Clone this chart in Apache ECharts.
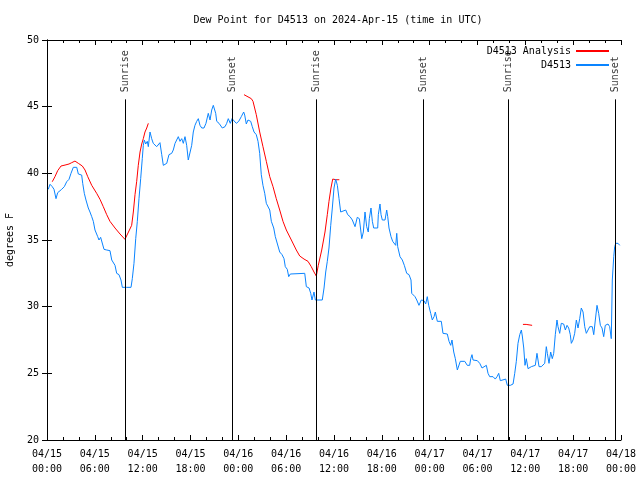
<!DOCTYPE html>
<html><head><meta charset="utf-8">
<script src="https://cdn.jsdelivr.net/npm/echarts@6/dist/echarts.min.js"></script>
<style>html,body{margin:0;padding:0;background:#fff}#c{width:640px;height:480px}</style>
</head><body><div id="c"></div>
<script>
const titleText = 'Dew Point for D4513 on 2024-Apr-15 (time in UTC)';
const yName = 'degrees F';
const obsName = 'D4513';
const anaName = 'D4513 Analysis';
const xTickLabels = ['04/15\n00:00','04/15\n06:00','04/15\n12:00','04/15\n18:00','04/16\n00:00','04/16\n06:00','04/16\n12:00','04/16\n18:00','04/17\n00:00','04/17\n06:00','04/17\n12:00','04/17\n18:00','04/18\n00:00'];
const sunHours = [9.82, 23.25, 33.78, 47.2, 57.87, 71.34];
const sunLabels = ['Sunrise','Sunset','Sunrise','Sunset','Sunrise','Sunset'];
const sunLineTop = 45.55;

// observed dew point [hour since 04/15 00:00 UTC, degF]
const obsPoints = [
[0.16,38.8],[0.38,39.18],[0.66,39.0],[0.88,38.8],[1.13,38.1],[1.34,38.55],[1.51,38.4],[1.84,38.8],[2.17,39.0],[2.47,39.37],
[2.76,39.55],[3.01,40.0],[3.30,40.45],[3.51,40.5],[3.73,40.45],[3.93,39.95],[4.35,39.87],[4.48,39.25],[4.68,38.5],[4.89,38.0],
[5.18,37.4],[5.39,37.1],[5.61,36.75],[5.81,36.4],[6.02,35.75],[6.36,35.25],[6.52,35.0],[6.73,35.2],[6.94,35.1],[7.15,34.3],
[7.49,34.25],[7.90,34.2],[8.12,33.5],[8.32,33.37],[8.53,33.1],[8.74,32.5],[9.03,32.4],[9.28,32.0],[9.45,31.45],[10.0,31.45],
[10.54,31.45],[10.70,32.1],[10.91,33.25],[11.13,35.1],[11.33,36.4],[11.54,38.1],[11.75,39.6],[11.95,41.1],[12.08,42.1],[12.21,42.5],
[12.38,42.2],[12.58,42.4],[12.71,42.0],[12.92,43.1],[13.13,42.6],[13.33,42.25],[13.76,42.0],[14.17,42.3],[14.39,41.4],[14.59,40.6],
[14.80,40.55],[15.02,40.75],[15.30,41.4],[15.64,41.5],[15.84,41.75],[16.06,42.25],[16.27,42.1],[16.47,42.75],[16.68,42.4],[16.90,42.6],
[17.10,42.25],[17.31,42.75],[17.52,42.1],[17.72,41.0],[17.94,41.0],[18.15,42.1],[18.35,43.1],[18.56,43.6],[18.78,43.9],[18.98,44.1],
[19.19,43.6],[19.41,43.4],[19.69,43.4],[19.94,43.75],[20.23,44.5],[20.45,44.0],[20.66,44.75],[20.86,45.1],[20.99,45.25],[21.16,44.5],
[21.29,43.9],[21.58,43.75],[21.79,43.9],[21.99,43.4],[22.33,43.5],[22.54,43.75],[22.74,44.1],[22.99,43.75],[23.21,44.1],[23.46,44.07],
[23.75,43.75],[24.05,43.9],[24.37,44.25],[24.67,44.6],[24.80,44.37],[25.00,43.7],[25.21,44.0],[25.55,43.9],[25.75,43.5],[25.97,43.1],
[26.25,42.9],[26.47,42.4],[26.68,41.5],[26.88,39.9],[27.09,39.1],[27.31,38.5],[27.51,37.75],[27.72,37.7],[27.94,37.25],[28.14,36.4],
[28.44,35.9],[28.64,35.25],[28.89,35.1],[29.19,34.1],[29.48,33.9],[29.73,33.6],[29.89,33.0],[30.14,32.8],[30.32,32.25],[30.52,32.45],
[30.73,32.5],[32.33,32.5],[32.53,31.5],[32.87,31.4],[33.08,31.0],[33.24,30.5],[33.49,31.1],[33.66,30.5],[34.53,30.5],[34.75,31.4],
[34.96,32.6],[35.16,33.4],[35.37,34.4],[35.59,36.1],[35.79,37.4],[36.00,38.9],[36.21,39.57],[36.42,39.1],[36.63,38.1],[36.84,37.1],
[37.04,37.25],[37.47,37.25],[37.72,36.9],[38.01,36.75],[38.30,36.5],[38.64,36.0],[38.92,36.7],[39.18,36.6],[39.35,35.75],[39.48,35.1],
[39.68,35.6],[39.89,37.1],[40.10,36.0],[40.30,35.6],[40.43,36.6],[40.64,37.4],[40.81,36.4],[40.98,35.9],[41.48,35.9],[41.56,36.9],
[41.77,37.7],[41.90,36.9],[42.06,36.5],[42.40,36.5],[42.61,37.25],[42.74,36.75],[42.90,35.9],[43.15,35.25],[43.36,34.9],[43.53,35.0],
[43.74,34.6],[43.87,35.5],[43.99,34.5],[44.28,33.75],[44.57,33.5],[44.82,33.1],[45.12,32.5],[45.41,32.4],[45.66,32.0],[45.75,31.0],
[45.95,31.1],[46.16,30.75],[46.38,30.5],[46.66,30.1],[46.95,30.5],[47.29,30.45],[47.50,30.2],[47.70,30.75],[47.88,30.1],[48.13,29.5],
[48.33,29.0],[48.55,29.25],[48.71,29.6],[48.96,28.9],[49.46,28.9],[49.67,28.0],[50.21,27.95],[50.43,27.4],[50.64,27.1],[50.80,27.5],
[51.02,26.6],[51.22,26.1],[51.47,25.25],[51.64,25.2],[51.84,25.9],[52.06,26.0],[52.40,25.9],[52.72,25.6],[53.02,25.6],[53.15,26.1],
[53.31,26.4],[53.44,26.0],[53.98,25.95],[54.28,25.75],[54.57,25.4],[54.82,25.5],[55.11,25.6],[55.32,25.0],[55.53,24.75],[55.73,24.9],
[55.95,24.75],[56.23,24.57],[56.45,24.75],[56.66,25.0],[56.86,24.45],[57.07,24.6],[57.54,24.57],[57.74,24.1],[57.92,24.0],[58.12,24.1],
[58.46,24.2],[58.67,25.0],[58.87,25.9],[59.08,27.25],[59.30,27.9],[59.50,28.25],[59.62,27.8],[59.80,26.9],[59.96,25.6],[60.12,26.1],
[60.34,25.35],[60.55,25.25],[60.75,25.5],[60.96,25.6],[61.25,25.6],[61.46,26.5],[61.72,25.5],[62.00,25.5],[62.22,25.35],[62.43,25.75],
[62.63,27.0],[62.76,26.5],[62.97,25.75],[63.18,26.6],[63.38,26.1],[63.56,26.5],[63.76,27.9],[63.97,29.0],[64.10,28.5],[64.31,28.0],
[64.51,28.75],[64.81,28.7],[65.02,28.25],[65.23,28.6],[65.44,28.4],[65.64,27.9],[65.77,27.25],[65.98,27.5],[66.19,28.0],[66.40,29.0],
[66.61,28.4],[66.82,29.1],[67.02,29.9],[67.24,29.6],[67.45,28.5],[67.65,28.0],[67.86,27.9],[68.08,28.5],[68.40,28.5],[68.58,27.9],
[68.78,29.0],[68.99,30.1],[69.20,29.5],[69.41,28.6],[69.62,28.4],[69.83,27.75],[70.03,28.6],[70.37,28.7],[70.58,28.5],[70.78,27.6],
[70.91,32.0],[71.09,33.75],[71.21,34.5],[71.34,34.75],[71.63,34.75],[71.84,34.6]
];

// analysis dew point segments [hour, degF]
const anaSeg1 = [
[0.66,39.37],[1.0,39.75],[1.34,40.2],[1.76,40.55],[2.26,40.62],[2.76,40.7],[3.10,40.8],[3.51,40.92],[3.93,40.75],[4.43,40.55],
[4.77,40.25],[5.11,39.75],[5.61,39.1],[6.23,38.5],[6.65,38.05],[7.06,37.5],[7.49,36.9],[7.90,36.4],[8.53,35.9],[9.16,35.45],
[9.78,35.05],[10.62,36.1],[10.83,37.1],[11.04,38.4],[11.25,39.4],[11.45,40.6],[11.67,41.6],[11.88,42.2],[12.08,42.6],[12.29,43.1],
[12.51,43.4],[12.71,43.75]
];
const anaSeg2 = [
[24.71,45.9],[25.63,45.6],[25.84,45.4],[26.25,44.4],[26.68,43.1],[27.09,42.0],[27.51,40.9],[27.94,39.75],[28.35,39.0],[28.76,38.1],
[29.19,37.25],[29.60,36.4],[30.02,35.75],[30.65,35.0],[31.27,34.25],[31.70,33.8],[32.24,33.57],[32.74,33.4],[33.15,33.0],[33.49,32.6],
[33.78,32.3],[34.03,33.1],[34.46,34.25],[34.87,35.6],[35.16,36.9],[35.37,37.9],[35.62,38.9],[35.84,39.57],[36.25,39.52],[36.67,39.52]
];
const anaSeg3 = [[59.7,28.67],[60.1,28.67],[60.2,28.6],[60.85,28.6]];

const anaData = [].concat(anaSeg1, [[18, '-']], anaSeg2, [[48, '-']], anaSeg3);

const mono = 'DejaVu Sans Mono';
const chart = echarts.init(document.getElementById('c'), null, {renderer: 'canvas'});

const axisCommonX = {
  type: 'value', min: 0, max: 72, interval: 6,
  axisLine: {show: true, lineStyle: {color: '#000', width: 1}},
  axisTick: {show: true, inside: true, length: 5, lineStyle: {color: '#000'}},
  minorTick: {show: true, splitNumber: 3, length: 3, lineStyle: {color: '#000'}},
  splitLine: {show: false}, minorSplitLine: {show: false}
};
const axisCommonY = {
  type: 'value', min: 20, max: 50, interval: 5,
  axisLine: {show: true, lineStyle: {color: '#000', width: 1}},
  axisTick: {show: true, inside: true, length: 5, lineStyle: {color: '#000'}},
  splitLine: {show: false}
};
const legendCommon = {
  right: 30, orient: 'vertical', align: 'right', padding: 0,
  itemWidth: 33, itemHeight: 12, itemGap: 2,
  itemStyle: {opacity: 0},
  textStyle: {fontFamily: mono, fontSize: 10, color: '#000'}
};

chart.setOption({
  animation: false,
  backgroundColor: '#fff',
  title: {
    text: titleText, left: 333, top: 10, textAlign: 'center',
    textStyle: {fontFamily: mono, fontSize: 10, fontWeight: 'normal', color: '#000'}
  },
  grid: {left: 47, right: 19, top: 40, bottom: 40, containLabel: false, outerBoundsMode: 'none'},
  legend: [
    Object.assign({data: [anaName], top: 46}, legendCommon),
    Object.assign({data: [obsName], top: 60}, legendCommon)
  ],
  xAxis: [
    Object.assign({}, axisCommonX, {
      position: 'bottom',
      axisLabel: {show: true, margin: 7, lineHeight: 15, fontFamily: mono, fontSize: 10, color: '#000',
        formatter: v => xTickLabels[Math.round(v / 6)]}
    }),
    Object.assign({}, axisCommonX, {position: 'top', axisLabel: {show: false}})
  ],
  yAxis: [
    Object.assign({}, axisCommonY, {
      position: 'left', name: yName, nameLocation: 'middle', nameGap: 32, nameRotate: 90,
      nameTextStyle: {fontFamily: mono, fontSize: 10, color: '#000'},
      axisLabel: {show: true, margin: 8, fontFamily: mono, fontSize: 10, color: '#000'}
    }),
    Object.assign({}, axisCommonY, {position: 'right', axisLabel: {show: false}})
  ],
  series: [
    {
      name: 'sun', type: 'scatter', symbolSize: 0, silent: true,
      data: sunHours.map(h => [h, sunLineTop]),
      label: {
        show: true, position: 'top', distance: 7, rotate: 90, align: 'left', verticalAlign: 'middle',
        fontFamily: mono, fontSize: 10, color: '#000',
        formatter: p => sunLabels[p.dataIndex]
      },
      markLine: {
        silent: true, symbol: ['none', 'none'], animation: false,
        label: {show: false},
        lineStyle: {color: '#000', width: 1, type: 'solid'},
        emphasis: {disabled: true},
        data: sunHours.map(h => [{coord: [h, 20]}, {coord: [h, sunLineTop]}])
      }
    },
    {
      name: anaName, type: 'line', data: anaData, symbol: 'none', showSymbol: false,
      connectNulls: false,
      lineStyle: {color: '#ff0000', width: 1}, itemStyle: {color: '#ff0000'}
    },
    {
      name: obsName, type: 'line', data: obsPoints, symbol: 'none', showSymbol: false,
      lineStyle: {color: '#0a84ff', width: 1}, itemStyle: {color: '#0a84ff'}
    }
  ]
});
</script>
</body></html>
